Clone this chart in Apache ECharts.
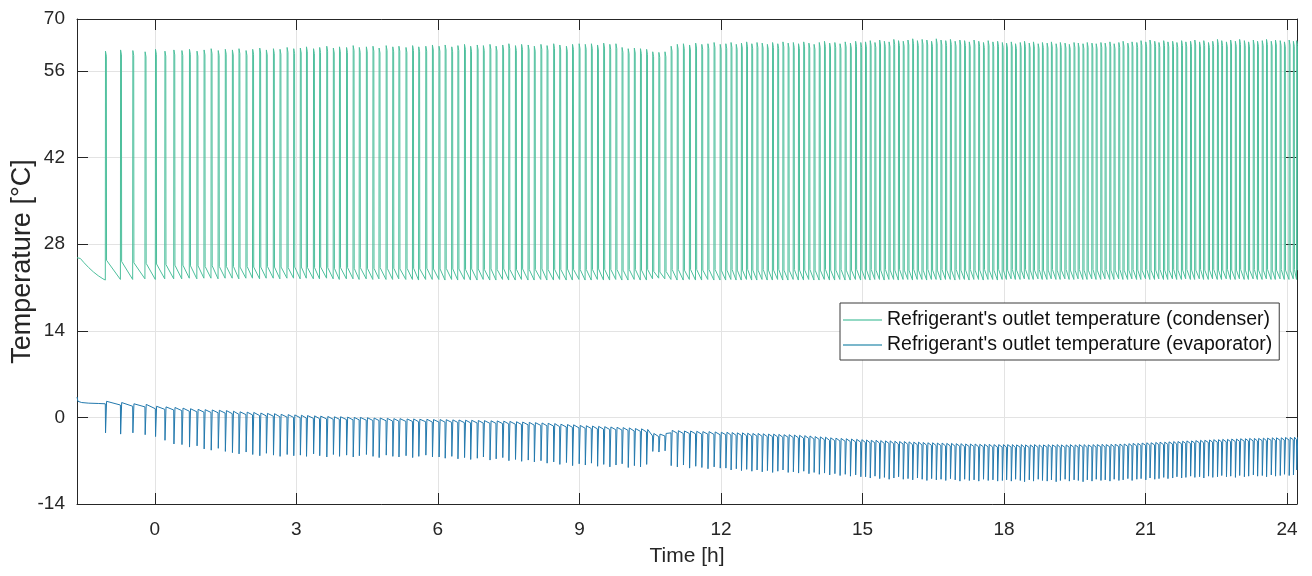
<!DOCTYPE html>
<html><head><meta charset="utf-8">
<script src="https://cdn.jsdelivr.net/npm/echarts@6/dist/echarts.min.js"></script>
<style>html,body{margin:0;padding:0;background:#fff}#chart{width:1312px;height:576px}</style>
</head><body><div id="chart"></div>
<script>
// ---- data (time in hours, temperatures in °C) ----
// compressor start time of every cycle
const cycleTime = [
-1.05,-0.73,-0.47,-0.21,0.01,0.21,0.40,
0.57,0.73,0.89,1.04,1.19,1.34,1.49,
1.64,1.78,1.93,2.07,2.22,2.36,2.51,2.65,2.80,2.94,
3.08,3.21,3.36,3.49,3.64,3.78,3.91,4.06,4.20,4.33,4.48,4.62,4.75,4.90,5.04,5.17,5.32,5.46,5.59,5.74,5.88,
6.02,6.15,6.29,6.42,6.56,6.69,6.83,6.96,7.10,7.23,7.37,7.50,7.64,7.77,7.91,8.04,8.18,8.31,8.45,8.58,8.72,8.85,8.99,
9.12,9.25,9.38,9.51,9.64,9.77,9.90,10.03,10.16,10.29,10.42,10.55,10.68,10.81,10.94,11.07,11.20,11.33,11.46,11.59,11.72,11.85,11.98,
12.10,12.21,12.32,12.43,12.54,12.65,12.76,12.87,12.98,13.09,13.20,13.31,13.42,13.53,13.64,13.75,13.86,13.97,14.08,14.19,14.30,14.41,14.52,14.63,14.74,14.85,14.96,
15.06,15.16,15.26,15.36,15.46,15.56,15.66,15.76,15.86,15.96,16.06,16.16,16.26,16.36,16.46,16.56,16.66,16.76,16.86,16.96,17.06,17.16,17.26,17.36,17.46,17.56,17.66,17.76,17.86,17.96,
18.05,18.15,18.24,18.34,18.43,18.53,18.62,18.72,18.81,18.91,
19.00,19.10,19.19,19.29,19.38,19.48,19.57,19.67,19.76,19.86,
19.95,20.05,20.14,20.24,20.33,20.43,20.52,20.62,20.71,20.81,
20.90,21.00,21.09,21.19,21.28,21.38,21.47,21.57,21.66,21.76,
21.85,21.95,22.04,22.14,22.23,22.33,22.42,22.52,22.61,22.71,
22.80,22.90,22.99,23.09,23.18,23.28,23.37,23.47,23.56,23.66,
23.75,23.85,23.94,24.04,24.13,24.20
];
// condenser: peak temperature of each cycle
const condPeak = [
59.2,59.4,59.3,59.1,59.5,59.2,59.4,
59.3,59.5,59.2,59.4,59.6,59.3,59.5,
59.4,59.6,59.3,59.5,59.7,59.4,59.6,59.5,59.8,59.6,
59.7,59.9,59.6,59.8,60.0,59.7,59.9,59.8,60.1,59.8,59.9,60.0,59.7,60.1,59.9,60.0,59.8,60.1,59.9,60.0,60.2,
60.0,60.2,59.9,60.1,60.3,60.0,60.2,60.1,60.3,60.0,60.2,60.4,60.1,60.3,60.2,60.0,60.3,60.1,60.4,60.2,60.0,60.3,60.4,
60.3,60.4,60.2,60.5,60.3,60.4,59.8,59.6,59.7,59.6,59.5,59.1,59.0,59.1,60.0,60.3,60.4,60.2,60.5,60.3,60.4,60.6,60.3,
60.4,60.6,60.3,60.5,60.7,60.4,60.6,60.5,60.3,60.6,60.4,60.7,60.5,60.6,60.4,60.7,60.5,60.3,60.6,60.8,60.5,60.6,60.4,60.7,60.5,60.8,60.6,
60.7,60.9,60.6,61.0,60.8,60.7,61.1,60.9,60.8,61.0,61.2,60.9,61.1,61.0,60.8,61.2,61.0,60.9,61.1,60.8,61.0,60.9,60.7,61.0,60.8,60.6,60.9,60.7,60.8,60.6,
60.5,60.7,60.4,60.6,60.8,60.5,60.7,60.4,60.6,60.5,
60.7,60.4,60.6,60.5,60.3,60.6,60.5,60.4,60.6,60.5,
60.4,60.6,60.5,60.7,60.4,60.6,60.8,60.5,60.7,60.6,
60.9,60.7,61.0,60.8,60.6,60.9,60.7,60.8,60.6,60.9,
60.7,60.8,61.0,60.7,60.9,60.6,60.8,61.1,60.9,60.7,
61.0,60.8,61.1,60.9,60.7,61.0,60.8,60.9,61.1,60.8,
61.0,60.9,60.7,61.0,60.8,60.9
];
// condenser: temperature just before each start
const condLow = [
22.2,22.3,22.3,22.4,22.3,22.4,22.4,
22.4,22.5,22.4,22.5,22.5,22.4,22.5,
22.5,22.4,22.5,22.5,22.4,22.5,22.5,22.4,22.5,22.5,
22.4,22.5,22.4,22.4,22.5,22.4,22.3,22.4,22.4,22.3,22.4,22.3,22.4,22.3,22.3,22.4,22.3,22.3,22.2,22.3,22.3,
22.3,22.2,22.3,22.2,22.3,22.2,22.2,22.3,22.2,22.2,22.3,22.2,22.2,22.3,22.2,22.2,22.3,22.2,22.2,22.3,22.2,22.2,22.3,
22.2,22.2,22.3,22.2,22.2,22.3,22.2,22.2,22.3,22.2,22.2,22.4,22.5,22.4,22.3,22.2,22.2,22.3,22.2,22.2,22.3,22.2,22.2,
22.2,22.3,22.2,22.2,22.3,22.2,22.2,22.3,22.2,22.2,22.3,22.2,22.2,22.3,22.2,22.2,22.3,22.2,22.2,22.3,22.2,22.2,22.3,22.2,22.2,22.3,22.2,
22.3,22.2,22.3,22.3,22.2,22.3,22.3,22.2,22.3,22.3,22.2,22.3,22.3,22.2,22.3,22.3,22.2,22.3,22.3,22.2,22.3,22.3,22.2,22.3,22.3,22.2,22.3,22.3,22.2,22.3,
22.3,22.4,22.3,22.3,22.4,22.3,22.3,22.4,22.3,22.3,
22.4,22.3,22.3,22.4,22.3,22.3,22.4,22.3,22.3,22.4,
22.3,22.3,22.4,22.3,22.3,22.4,22.3,22.3,22.4,22.3,
22.3,22.4,22.3,22.3,22.4,22.3,22.3,22.4,22.3,22.3,
22.4,22.3,22.3,22.4,22.3,22.3,22.4,22.3,22.3,22.4,
22.3,22.3,22.4,22.3,22.3,22.4,22.3,22.3,22.4,22.3,
22.3,22.4,22.3,22.3,22.4,22.3
];
// condenser: temperature right after each stop
const condAfter = [
25.4,25.2,25.0,24.9,24.8,24.7,24.6,
24.6,24.5,24.5,24.4,24.5,24.4,24.4,
24.4,24.3,24.4,24.3,24.3,24.4,24.3,24.3,24.2,24.3,
24.3,24.2,24.2,24.3,24.2,24.1,24.2,24.2,24.1,24.2,24.1,24.1,24.2,24.1,24.1,24.0,24.1,24.1,24.0,24.1,24.0,
24.0,24.1,24.0,24.0,23.9,24.0,24.0,23.9,24.0,23.9,24.0,23.9,23.9,24.0,23.9,23.9,24.0,23.9,23.9,23.9,24.0,23.9,23.9,
23.9,23.9,24.0,23.9,23.9,23.9,23.8,23.9,23.9,23.8,23.9,23.6,23.5,23.6,23.9,23.9,23.8,23.9,23.9,23.8,23.9,23.9,23.8,
23.8,23.9,23.8,23.8,23.9,23.8,23.8,23.9,23.8,23.8,23.9,23.8,23.8,23.9,23.8,23.8,23.9,23.8,23.8,23.9,23.8,23.8,23.9,23.8,23.8,23.9,23.8,
23.8,23.9,23.8,23.8,23.9,23.8,23.8,23.9,23.8,23.8,23.9,23.8,23.8,23.9,23.8,23.8,23.9,23.8,23.8,23.9,23.8,23.8,23.9,23.8,23.8,23.9,23.8,23.8,23.9,23.8,
23.8,23.9,23.8,23.8,23.9,23.8,23.8,23.9,23.8,23.8,
23.9,23.8,23.8,23.9,23.8,23.8,23.9,23.8,23.8,23.9,
23.8,23.8,23.9,23.8,23.8,23.9,23.8,23.8,23.9,23.8,
23.8,23.9,23.8,23.8,23.9,23.8,23.8,23.9,23.8,23.8,
23.9,23.8,23.8,23.9,23.8,23.8,23.9,23.8,23.8,23.9,
23.8,23.8,23.9,23.8,23.8,23.9,23.8,23.8,23.9,23.8,
23.8,23.9,23.8,23.8,23.9,23.8
];
// evaporator: temperature just before each start
const evapBase = [
2.2,2.0,1.8,1.7,1.4,1.3,1.2,
1.1,1.0,0.9,0.85,0.8,0.75,0.7,
0.6,0.5,0.45,0.4,0.3,0.25,0.2,0.1,0.05,0.0,
-0.05,-0.1,-0.15,-0.2,-0.25,-0.3,-0.3,-0.35,-0.4,-0.4,-0.45,-0.5,-0.5,-0.55,-0.6,-0.6,-0.65,-0.65,-0.7,-0.7,-0.75,
-0.75,-0.77,-0.8,-0.82,-0.85,-0.87,-0.9,-0.92,-0.95,-0.97,-1.0,-1.05,-1.1,-1.15,-1.2,-1.25,-1.3,-1.35,-1.4,-1.5,-1.55,-1.6,-1.7,
-1.75,-1.8,-1.85,-1.9,-1.95,-2.0,-2.05,-2.1,-2.2,-2.25,-2.35,-3.0,-3.1,-3.0,-2.5,-2.55,-2.6,-2.6,-2.65,-2.7,-2.7,-2.75,-2.8,
-2.8,-2.85,-2.9,-2.9,-2.95,-3.0,-3.0,-3.05,-3.1,-3.1,-3.15,-3.2,-3.2,-3.25,-3.3,-3.35,-3.4,-3.5,-3.55,-3.6,-3.7,-3.75,-3.8,-3.85,-3.9,-3.95,-4.0,
-4.05,-4.1,-4.1,-4.15,-4.2,-4.2,-4.25,-4.3,-4.3,-4.35,-4.4,-4.4,-4.45,-4.5,-4.5,-4.55,-4.55,-4.6,-4.6,-4.65,-4.65,-4.7,-4.7,-4.7,-4.75,-4.75,-4.75,-4.8,-4.8,-4.8,
-4.8,-4.8,-4.85,-4.8,-4.85,-4.85,-4.8,-4.85,-4.85,-4.8,
-4.85,-4.8,-4.85,-4.85,-4.8,-4.85,-4.8,-4.8,-4.85,-4.8,
-4.8,-4.75,-4.8,-4.75,-4.75,-4.7,-4.7,-4.65,-4.6,-4.6,
-4.55,-4.5,-4.5,-4.45,-4.4,-4.4,-4.35,-4.3,-4.3,-4.25,
-4.2,-4.2,-4.15,-4.1,-4.1,-4.05,-4.0,-4.0,-3.95,-3.95,
-3.9,-3.9,-3.85,-3.85,-3.8,-3.8,-3.8,-3.75,-3.75,-3.7,
-3.7,-3.7,-3.65,-3.65,-3.6,-3.6
];
// evaporator: lowest temperature of each cycle
const evapDip = [
-2.5,-2.7,-2.5,-2.8,-3.1,-3.7,-4.3,
-4.4,-4.8,-4.6,-5.1,-5.3,-5.0,-5.5,
-5.7,-5.9,-5.6,-6.0,-6.2,-5.8,-6.1,-6.3,-6.0,-6.2,
-6.1,-6.3,-5.9,-6.2,-6.4,-6.0,-6.3,-6.1,-6.4,-6.2,-6.0,-6.3,-6.5,-6.1,-6.3,-6.4,-6.2,-6.5,-6.3,-6.1,-6.4,
-6.4,-6.6,-6.3,-6.7,-6.5,-6.8,-6.6,-6.4,-6.9,-6.7,-6.5,-7.0,-6.8,-7.1,-6.9,-7.2,-7.0,-7.4,-7.2,-7.6,-7.3,-7.8,-7.5,
-7.7,-7.4,-7.9,-7.6,-8.0,-7.7,-7.5,-8.1,-7.8,-8.0,-7.6,-5.5,-5.6,-5.4,-7.8,-8.0,-7.7,-8.2,-7.9,-8.1,-8.3,-8.0,-8.2,
-8.2,-8.5,-8.3,-8.6,-8.4,-8.7,-8.5,-8.8,-8.6,-8.9,-8.7,-8.5,-8.9,-8.8,-9.0,-8.7,-9.1,-8.9,-9.2,-9.0,-9.3,-9.1,-9.4,-9.2,-9.5,-9.3,-9.6,
-9.6,-9.8,-9.5,-9.9,-9.7,-10.0,-9.8,-9.6,-10.0,-9.9,-10.1,-9.8,-10.0,-10.2,-9.9,-10.1,-10.0,-10.2,-9.9,-10.1,-10.3,-10.0,-10.2,-10.1,-10.3,-10.0,-10.2,-10.1,-10.3,-10.2,
-10.1,-10.3,-10.0,-10.2,-10.4,-10.1,-10.3,-10.0,-10.2,-10.3,
-10.1,-10.4,-10.2,-10.0,-10.3,-10.1,-10.2,-10.4,-10.1,-10.3,
-10.0,-10.2,-10.1,-10.3,-10.0,-10.2,-10.1,-9.9,-10.2,-10.0,
-9.9,-10.1,-9.8,-10.0,-9.9,-9.7,-9.9,-9.8,-9.6,-9.8,
-9.7,-9.5,-9.7,-9.6,-9.8,-9.5,-9.7,-9.6,-9.4,-9.6,
-9.5,-9.7,-9.4,-9.6,-9.5,-9.3,-9.5,-9.4,-9.6,-9.3,
-9.5,-9.4,-9.2,-9.4,-9.3,-8.5
];
// start-up transient before the first compressor start
const condStart = [[-1.65,25.8],[-1.58,25.7],[-1.5,25.0],[-1.4,24.2],[-1.3,23.5],[-1.2,22.9],[-1.1,22.4]];
const evapStart = [[-1.65,3.3],[-1.63,2.6],[-1.55,2.4],[-1.4,2.3],[-1.2,2.25]];
const ON_HOURS = 0.022;      // length of each compressor run
const PEAK_SETTLE = 0.8;     // condenser drop from peak during the run
const EVAP_RECOVER = 0.4;    // evaporator overshoot right after the run

const X_TICKS = [0,3,6,9,12,15,18,21,24];
const Y_TICKS = [-14,0,14,28,42,56,64.4];
const Y_TICK_LABELS = ['-14','0','14','28','42','56','70'];
const X_RANGE = [-1.65, 24.21];
const Y_RANGE = [-14, 64.4];
const SERIES_NAMES = ["Refrigerant's outlet temperature (condenser)", "Refrigerant's outlet temperature (evaporator)"];

// ---- build series tables ----
const n = Math.min(cycleTime.length, condPeak.length, condLow.length, condAfter.length, evapBase.length, evapDip.length);
const condData = condStart.slice();
const evapData = evapStart.slice();
for (let i = 0; i < n; i++) {
  const t = cycleTime[i];
  condData.push([t, condLow[i]], [t + 0.004, condPeak[i]], [t + ON_HOURS, condPeak[i] - PEAK_SETTLE], [t + ON_HOURS + 0.004, condAfter[i]]);
  evapData.push([t, evapBase[i]], [t + 0.005, evapDip[i]], [t + ON_HOURS, evapDip[i] + 0.3], [t + ON_HOURS + 0.005, evapBase[i] + EVAP_RECOVER]);
}

const FONT = "'Liberation Sans', Arial, Helvetica, sans-serif";
const AX = '#262626';
const COND_COLOR = '#4dbf9c';
const EVAP_COLOR = '#2379ad';
const chart = echarts.init(document.getElementById('chart'), null, {renderer: 'canvas'});
const boxAxis = (pos, ticks, range) => ({
  type: 'value', position: pos, min: range[0], max: range[1],
  axisLine: {show: true, onZero: false, lineStyle: {color: AX, width: 1}},
  axisTick: {show: true, inside: true, length: 11, customValues: ticks, lineStyle: {color: AX}},
  axisLabel: {show: false}, splitLine: {show: false}
});
chart.setOption({
  animation: false,
  backgroundColor: '#ffffff',
  grid: {left: 77, right: 15, top: 19, bottom: 72, containLabel: false, outerBoundsMode: 'none'},
  legend: {
    show: true, orient: 'vertical', left: 840, top: 303,
    data: [
      {name: SERIES_NAMES[0], icon: 'rect', itemStyle: {color: '#6fcdb1'}},
      {name: SERIES_NAMES[1], icon: 'rect', itemStyle: {color: '#4f9fba'}}
    ],
    selectedMode: false,
    itemWidth: 39, itemHeight: 1.5, itemGap: 5,
    padding: [7, 7, 5, 3],
    backgroundColor: '#ffffff', borderColor: '#3a3a3a', borderWidth: 1, borderRadius: 0,
    textStyle: {fontFamily: FONT, fontSize: 19.5, color: '#111', lineHeight: 20}
  },
  xAxis: [{
    type: 'value', position: 'bottom', min: X_RANGE[0], max: X_RANGE[1],
    name: 'Time [h]', nameLocation: 'middle', nameGap: 42, nameMoveOverlap: false,
    nameTextStyle: {fontFamily: FONT, fontSize: 21, color: AX},
    axisLine: {show: true, onZero: false, lineStyle: {color: AX, width: 1}},
    axisTick: {show: true, inside: true, length: 11, customValues: X_TICKS, lineStyle: {color: AX}},
    axisLabel: {show: true, customValues: X_TICKS, fontFamily: FONT, fontSize: 19, color: AX, margin: 16},
    splitLine: {show: true, lineStyle: {color: '#e3e3e3', width: 1}}
  }, boxAxis('top', X_TICKS, X_RANGE)],
  yAxis: [{
    type: 'value', position: 'left', min: Y_RANGE[0], max: Y_RANGE[1],
    name: 'Temperature [°C]', nameLocation: 'middle', nameGap: 41, nameMoveOverlap: false,
    nameTextStyle: {fontFamily: FONT, fontSize: 27, color: AX},
    axisLine: {show: true, onZero: false, lineStyle: {color: AX, width: 1}},
    axisTick: {show: true, inside: true, length: 11, customValues: Y_TICKS, lineStyle: {color: AX}},
    axisLabel: {show: true, customValues: Y_TICKS, fontFamily: FONT, fontSize: 19, color: AX, margin: 12,
      formatter: v => { const k = Y_TICKS.findIndex(y => Math.abs(y - v) < 1e-6); return k >= 0 ? Y_TICK_LABELS[k] : ''; }},
    splitLine: {show: true, lineStyle: {color: '#e3e3e3', width: 1}}
  }, boxAxis('right', Y_TICKS, Y_RANGE)],
  series: [{
    name: SERIES_NAMES[0], type: 'line', xAxisIndex: 0, yAxisIndex: 0, data: condData,
    symbol: 'none', showSymbol: false, clip: true,
    lineStyle: {color: COND_COLOR, width: 1}, itemStyle: {color: COND_COLOR}
  }, {
    name: SERIES_NAMES[1], type: 'line', xAxisIndex: 0, yAxisIndex: 0, data: evapData,
    symbol: 'none', showSymbol: false, clip: true,
    lineStyle: {color: EVAP_COLOR, width: 1}, itemStyle: {color: EVAP_COLOR}
  }]
});
</script></body></html>
